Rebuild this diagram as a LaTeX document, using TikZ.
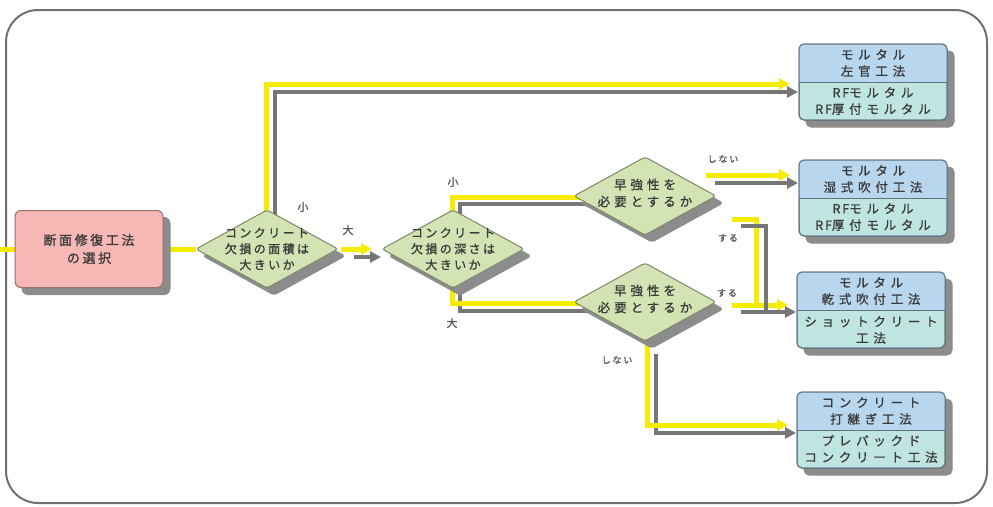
\documentclass[tikz,border=0pt]{standalone}
\usepackage{fontspec}
\newfontfamily\jpA{Noto Sans CJK JP}[LetterSpace=20,FakeBold=1]
\newfontfamily\jpB{Noto Sans CJK JP}[LetterSpace=32,FakeBold=1]
\newfontfamily\jpC{Noto Sans CJK JP}[LetterSpace=38,FakeBold=1]
\newfontfamily\jpN{Noto Sans CJK JP}[LetterSpace=15,FakeBold=1]
\usetikzlibrary{shapes.geometric,shadows,arrows.meta,calc}
\definecolor{lineyel}{HTML}{F5EC00}
\definecolor{linegray}{HTML}{767676}
\definecolor{framegray}{HTML}{707070}
\definecolor{shd}{HTML}{8C8C8C}
\definecolor{pinkfill}{HTML}{F6B8B4}
\definecolor{pinkedge}{HTML}{9A6E6E}
\definecolor{diafill}{HTML}{D3E3B3}
\definecolor{diaedge}{HTML}{7C8868}
\definecolor{boxtop}{HTML}{B8D6EE}
\definecolor{boxbot}{HTML}{BEE5DF}
\definecolor{boxedge}{HTML}{5E7280}
\definecolor{txtdark}{HTML}{3A3A3A}
\definecolor{labgray}{HTML}{555555}
\pgfdeclarelayer{bg}
\pgfsetlayers{bg,main}
\tikzset{
  shad/.style={copy shadow={shadow xshift=7pt,shadow yshift=-7pt,fill=shd,draw=shd}},
  startbox/.style={rectangle, rounded corners=6pt, draw=pinkedge, line width=1pt, fill=pinkfill,
    minimum width=148pt, minimum height=77pt, inner sep=0pt, outer sep=0pt, shad,
    align=center, text=txtdark, font=\jpA\fontsize{13}{18}\selectfont},
  dia/.style={diamond, draw=diaedge, line width=1pt, fill=diafill, minimum width=142pt,
    minimum height=78pt, inner sep=0pt, outer sep=0pt, rounded corners=3pt, shad},
  diatxt/.style={align=center, text=txtdark, inner sep=0pt, font=\jpA\fontsize{12}{16}\selectfont},
  diatxtb/.style={align=center, text=txtdark, inner sep=0pt, font=\jpB\fontsize{12.5}{17}\selectfont},
  resbox/.style={rectangle, rounded corners=5pt, draw=boxedge, line width=1pt, fill=boxbot,
    minimum width=148pt, minimum height=76pt, inner sep=0pt, outer sep=0pt, shad},
  boxtxt/.style={align=center, text=txtdark, inner sep=0pt, font=\jpC\fontsize{12.5}{16.5}\selectfont},
  lab/.style={text=labgray, inner sep=1pt, font=\jpA\fontsize{11}{13}\selectfont},
  labs/.style={text=labgray, inner sep=1pt, font=\jpA\fontsize{9}{11}\selectfont},
  yl/.style={draw=lineyel, line width=5pt},
  gl/.style={draw=linegray, line width=4pt},
  tip/.style={-{Triangle[length=11pt,width=11pt]}},
  frame/.style={draw=framegray, line width=2pt, rounded corners=32pt}
}
\newcommand{\RFx}{{\jpN RF}}
\begin{document}
\begin{tikzpicture}[x=1pt,y=-1pt]
\useasboundingbox (0,0) rectangle (993,506);

% nodes
\node[startbox] (p) at (89,249) {断面修復工法\\の選択};
\node[dia] (d1) at (267,249) {};
\node[diatxt] (d1t) at (d1) {コンクリート\\欠損の面積は\\大きいか};
\node[dia] (d2) at (453,249) {};
\node[diatxt] (d2t) at (d2) {コンクリート\\欠損の深さは\\大きいか};
\node[dia] (d3) at (645,196) {};
\node[diatxtb] (d3t) at ($(d3)+(0,-3)$) {早強性を\\必要とするか};
\node[dia] (d4) at (645,302) {};
\node[diatxtb] (d4t) at ($(d4)+(0,-3)$) {早強性を\\必要とするか};

\node[resbox] (b1) at (873,82) {};
\node[resbox] (b2) at (873,198) {};
\node[resbox] (b3) at (871,310) {};
\node[resbox] (b4) at (871,430) {};
\foreach \b in {b1,b2,b3,b4}{
  \begin{scope}
    \clip[rounded corners=5pt] (\b.south west) rectangle (\b.north east);
    \fill[boxtop] (\b.north west) rectangle (\b.east);
  \end{scope}
  \draw[boxedge, line width=1pt] (\b.west) -- (\b.east);
  \draw[boxedge, line width=1pt, rounded corners=5pt] (\b.south west) rectangle (\b.north east);
}
\node[boxtxt] (b1u) at ($(b1.center)+(0,-19)$) {モルタル\\左官工法};
\node[boxtxt] (b1d) at ($(b1.center)+(0,19)$) {\RFx モルタル\\\RFx 厚付モルタル};
\node[boxtxt] (b2u) at ($(b2.center)+(0,-19)$) {モルタル\\湿式吹付工法};
\node[boxtxt] (b2d) at ($(b2.center)+(0,19)$) {\RFx モルタル\\\RFx 厚付モルタル};
\node[boxtxt] (b3u) at ($(b3.center)+(0,-19)$) {モルタル\\乾式吹付工法};
\node[boxtxt] (b3d) at ($(b3.center)+(0,20)$) {ショットクリート\\工法};
\node[boxtxt] (b4u) at ($(b4.center)+(0,-19)$) {コンクリート\\打継ぎ工法};
\node[boxtxt] (b4d) at ($(b4.center)+(0,19)$) {プレパックド\\コンクリート工法};

% labels
\node[lab] (l1) at (303,207) {小};
\node[lab] (l2) at (348,230) {大};
\node[lab] (l3) at (453,182) {小};
\node[lab] (l4) at (452,323) {大};
\node[labs] (l5) at (723,159) {しない};
\node[labs] (l6) at (728,238) {する};
\node[labs] (l7) at (727,293) {する};
\node[labs] (l8) at (617,360) {しない};

\coordinate (in) at (0,249);

\begin{pgfonlayer}{bg}
  \draw[frame] (6,10) rectangle (987,503);
  % input and p -> d1
  \draw[yl] (in) -- (p.west);
  \draw[yl] (p.east) -- (d1.west);
  % d1 -> b1 (small)
  \draw[gl,tip] ($(d1.center)+(8,0)$) |- ($(b1.west)+(-1,10)$);
  \draw[yl,tip] ($(d1.center)+(-1,0)$) |- ($(b1.west)+(-9,2)$);
  % d1 -> d2 (large)
  \draw[gl,tip] ($(d1.east)+(16,8)$) -- ($(d2.west)+(-1,8)$);
  \draw[yl,tip] ($(d1.east)+(3,0)$) -- ($(d2.west)+(-10,0)$);
  % d2 -> d3 (small)
  \draw[gl] ($(d2.center)+(7,0)$) |- ($(d3.center)+(0,8)$);
  \draw[yl] ($(d2.center)+(-1,0)$) |- ($(d3.center)+(0,1)$);
  % d2 -> d4 (large)
  \draw[gl] ($(d2.center)+(7,0)$) |- ($(d4.center)+(0,9)$);
  \draw[yl] ($(d2.center)+(-1,0)$) |- ($(d4.center)+(0,1)$);
  % d3 -> b2 (no)
  \draw[gl,tip] ($(d3.east)+(-1,-13)$) -- ($(b2.west)+(-1,-15)$);
  \draw[yl,tip] ($(d3.east)+(-10,-21)$) -- ($(b2.west)+(-9,-23)$);
  % d4 -> b4 (no)
  \draw[gl,tip] ($(d4.south)+(11,13)$) |- ($(b4.west)+(-1,3)$);
  \draw[yl,tip] ($(d4.center)+(2,0)$) |- ($(b4.west)+(-9,-5)$);
  % d4 -> b3 (yes)
  \draw[yl,tip] ($(d4.east)+(16,3)$) -- ($(b3.west)+(-9,-5)$);
  \draw[gl,tip] ($(d4.east)+(25,10)$) -- ($(b3.west)+(-1,2)$);
  % d3 -> b3 (yes)
  \draw[yl] ($(d3.east)+(16,23)$) -| ($(b3.west)+(-41,-5)$);
  \draw[gl] ($(d3.east)+(25,30)$) -| ($(b3.west)+(-31,2)$);
\end{pgfonlayer}
\end{tikzpicture}
\end{document}
